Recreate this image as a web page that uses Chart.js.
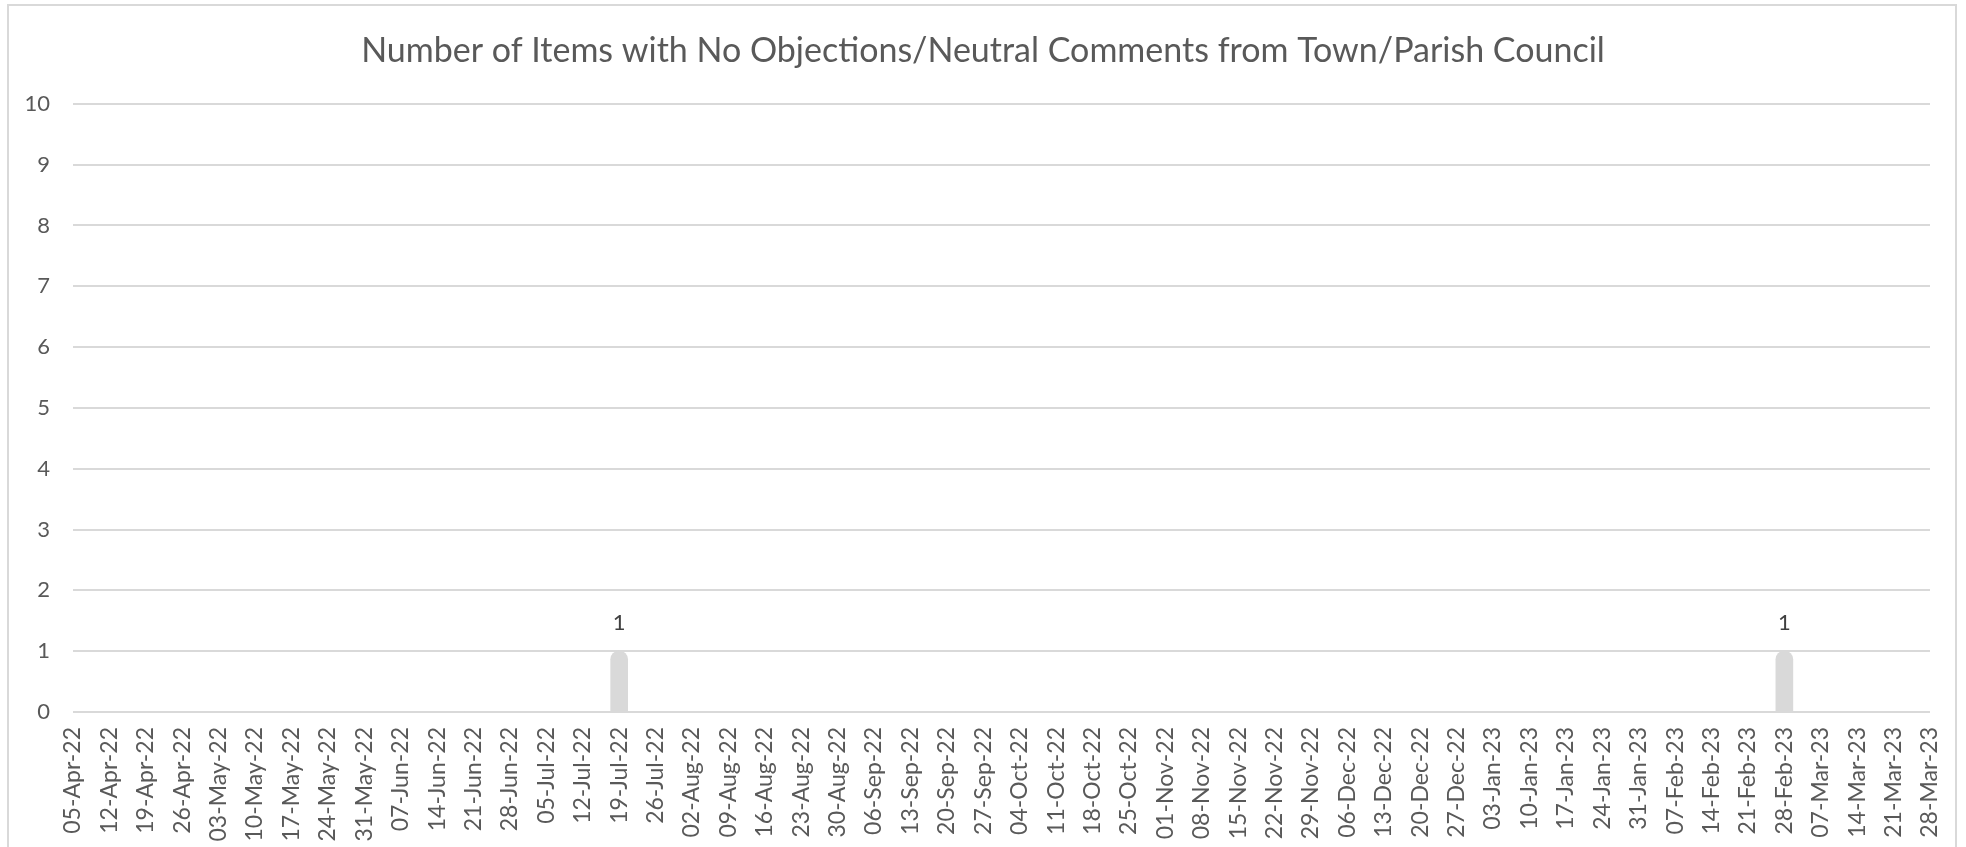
<!DOCTYPE html>
<html>
<head>
<meta charset="utf-8">
<script src="https://cdn.jsdelivr.net/npm/chart.js@4.4.1/dist/chart.umd.min.js"></script>
<style>
    html, body { margin: 0; padding: 0; background: #ffffff; }
    #wrap { position: relative; width: 1966px; height: 847px; overflow: hidden; }
    #frame {
        position: absolute; left: 7px; top: 4px; width: 1950px; height: 900px;
        border: 2px solid #d9d9d9; box-sizing: border-box; pointer-events: none;
    }
</style>
</head>
<body>
<div id="wrap">
    <canvas id="council_chart"></canvas>
    <div id="frame"></div>
</div>
<script>
// weekly meeting dates
var week_labels = [
    "05-Apr-22","12-Apr-22","19-Apr-22","26-Apr-22","03-May-22","10-May-22","17-May-22",
    "24-May-22","31-May-22","07-Jun-22","14-Jun-22","21-Jun-22","28-Jun-22","05-Jul-22",
    "12-Jul-22","19-Jul-22","26-Jul-22","02-Aug-22","09-Aug-22","16-Aug-22","23-Aug-22",
    "30-Aug-22","06-Sep-22","13-Sep-22","20-Sep-22","27-Sep-22","04-Oct-22","11-Oct-22",
    "18-Oct-22","25-Oct-22","01-Nov-22","08-Nov-22","15-Nov-22","22-Nov-22","29-Nov-22",
    "06-Dec-22","13-Dec-22","20-Dec-22","27-Dec-22","03-Jan-23","10-Jan-23","17-Jan-23",
    "24-Jan-23","31-Jan-23","07-Feb-23","14-Feb-23","21-Feb-23","28-Feb-23","07-Mar-23",
    "14-Mar-23","21-Mar-23","28-Mar-23"
];

// items with no objections / neutral comments per week
var item_counts = [
    0,0,0,0,0,0,0,
    0,0,0,0,0,0,0,
    0,1,0,0,0,0,0,
    0,0,0,0,0,0,0,
    0,0,0,0,0,0,0,
    0,0,0,0,0,0,0,
    0,0,0,0,0,1,0,
    0,0,0
];

var y_min = 0;
var y_max = 10;
var y_step = 1;

var chart_title = "Number of Items with No Objections/Neutral Comments from Town/Parish Council";

var text_grey = "#595959";
var grid_grey = "#d9d9d9";
var font_family = "Lato, 'Open Sans', sans-serif";

// value labels above the non-zero bars
var barValueLabels = {
    id: "barValueLabels",
    afterDatasetsDraw: function(chart) {
        var ctx = chart.ctx;
        var meta = chart.getDatasetMeta(0);
        ctx.save();
        ctx.fillStyle = "#404040";
        ctx.font = "22px " + font_family;
        ctx.textAlign = "center";
        ctx.textBaseline = "bottom";
        meta.data.forEach(function(bar, i) {
            var v = chart.data.datasets[0].data[i];
            if (v > 0) {
                ctx.fillText(String(v), bar.x, bar.y - 17);
            }
        });
        ctx.restore();
    }
};

var ctx1 = document.getElementById("council_chart").getContext("2d");
var myChart1 = new Chart(ctx1, {
    type: "bar",
    data: {
        labels: week_labels,
        datasets: [{
            label: "Items",
            data: item_counts,
            backgroundColor: grid_grey,
            barThickness: 17,
            borderRadius: 8.5,
            borderSkipped: "start"
        }]
    },
    options: {
        responsive: true,
        maintainAspectRatio: false,
        animation: false,
        plugins: {
            legend: { display: false },
            tooltip: { enabled: false },
            title: {
                display: true,
                text: chart_title,
                color: text_grey,
                font: { family: font_family, size: 34, weight: "normal" },
                padding: { top: 31, bottom: 32 }
            }
        },
        scales: {
            x: {
                offset: false,
                grid: { display: false, drawTicks: false },
                border: { display: false },
                ticks: {
                    autoSkip: false,
                    minRotation: 90,
                    maxRotation: 90,
                    padding: 15,
                    color: text_grey,
                    font: { family: font_family, size: 23 }
                },
                // keep the plot clear of the right edge while the title stays centred on the page
                afterFit: function(scale) {
                    scale.height = 135;
                    scale.paddingRight = 36;
                }
            },
            y: {
                min: y_min,
                max: y_max,
                grid: { color: grid_grey, lineWidth: 2, drawTicks: false },
                border: { display: false },
                ticks: {
                    stepSize: y_step,
                    padding: 23,
                    color: text_grey,
                    font: { family: font_family, size: 22 }
                },
                afterFit: function(scale) { scale.width = 73; }
            }
        }
    },
    plugins: [barValueLabels]
});
</script>
</body>
</html>
